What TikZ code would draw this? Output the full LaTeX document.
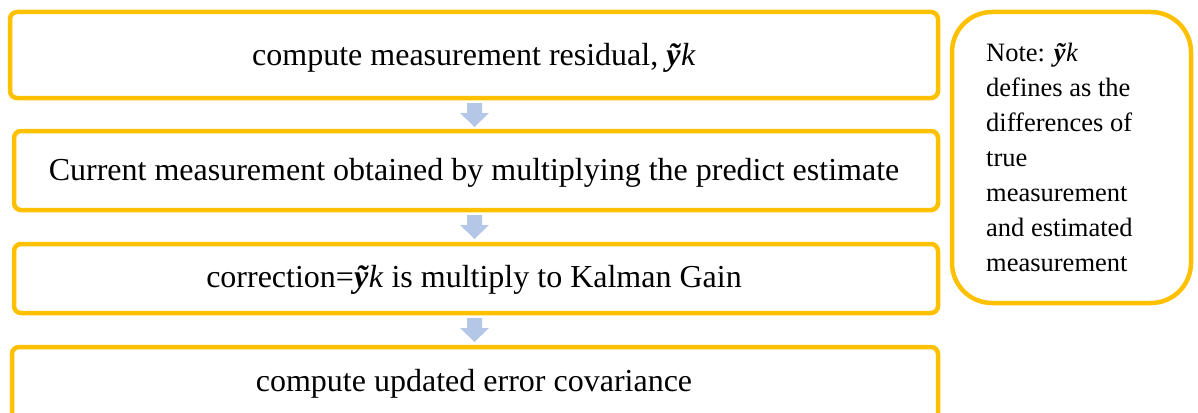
\documentclass[tikz,border=0pt]{standalone}
\usepackage{fontspec}
\setmainfont{Liberation Serif}
\definecolor{gold}{HTML}{FFC000}
\definecolor{arrowblue}{HTML}{B4C7E7}
\newcommand{\yk}{\textbf{\textit{\~y}}\textit{k}}
\begin{document}
\begin{tikzpicture}[x=1pt,y=-1pt,
  stepbox/.style={draw=gold,line width=4.5pt,rounded corners=7pt,fill=white},
  flowarrow/.style={fill=arrowblue,draw=none},
  boxtext/.style={font=\fontsize{32}{36}\selectfont,anchor=base}]
\useasboundingbox (0,0) rectangle (1198,412);
\clip (0,0) rectangle (1198,412);
% boxes
\draw[stepbox] (10,12) rectangle (938,98);
\draw[stepbox] (14,131) rectangle (938,210);
\draw[stepbox] (14,244) rectangle (938,313);
\draw[stepbox] (12,347) rectangle (938,425);
\node[boxtext] (t1) at (474,65) {compute measurement residual, \yk};
\node[boxtext] (t2) at (474,180) {Current measurement obtained by multiplying the predict estimate};
\node[boxtext] (t3) at (474,287) {correction=\yk\ is multiply to Kalman Gain};
\node[boxtext] (t4) at (474,391) {compute updated error covariance};
% arrows
\foreach \y/\n in {103/a1,215/a2,318/a3}{
  \fill[flowarrow] (467,\y) -- (482,\y) -- (482,\y+10) -- (489,\y+10) -- (474.5,\y+24) -- (460,\y+10) -- (467,\y+10) -- cycle;
}
% note
\draw[stepbox,rounded corners=40pt] (952,12) rectangle (1191,303);
\node[anchor=north west,align=left,font=\fontsize{26.5}{35}\selectfont,inner sep=0pt] (note) at (986,43)
 {Note: \yk\\defines as the\\differences of\\true\\measurement\\and estimated\\measurement};
\end{tikzpicture}
\end{document}
